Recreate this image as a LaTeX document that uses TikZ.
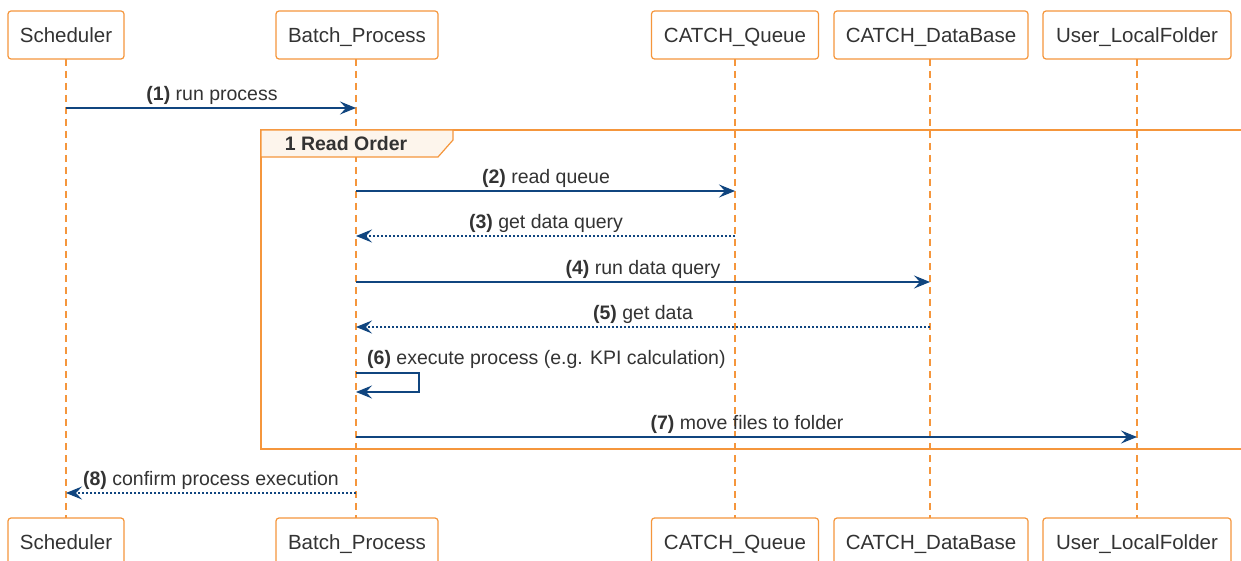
\documentclass[tikz,border=0pt]{standalone}
\usepackage{fontspec}
\setmainfont{Liberation Sans}
\usetikzlibrary{arrows.meta}
\definecolor{orng}{HTML}{F5963C}
\definecolor{navy}{HTML}{10457F}
\definecolor{txt}{HTML}{333333}
\definecolor{tabfill}{HTML}{FDF5EC}
\begin{document}
\begin{tikzpicture}[x=1pt,y=-1pt,
  part/.style={draw=orng,line width=1.2pt,rounded corners=3pt,fill=white,minimum height=48pt,inner sep=0pt,text=txt,font=\fontsize{20.5}{22}\selectfont},
  life/.style={draw=orng,line width=1.2pt,dash pattern=on 7pt off 5pt},
  msg/.style={draw=navy,line width=1.2pt,-{Stealth[length=16pt,width=13pt,inset=6pt]}},
  ret/.style={msg,dash pattern=on 2pt off 2pt},
  lbl/.style={text=txt,font=\fontsize{19.5}{21}\selectfont,inner sep=0pt,anchor=base}]
\clip (0,0) rectangle (1241,561);
\fill[white] (0,0) rectangle (1241,561);
% lifelines coordinates
\foreach \n/\x in {s/66,b/356,q/735,d/930,u/1137}{
  \coordinate (\n top) at (\x,59);
  \coordinate (\n bot) at (\x,518);
}
\foreach \n in {s,b,q,d,u}{\draw[life] (\n top) -- (\n bot);}
% frame
\draw[orng,line width=1.2pt] (261,130) rectangle (1260,449);
\draw[orng,line width=1.2pt,fill=tabfill] (261,130) -- (453,130) -- (453,140) -- (438,157) -- (261,157) -- cycle;
\node[lbl,font=\fontsize{19.5}{21}\selectfont\bfseries] (frm) at (346,151) {1 Read Order};
% participants top
\node[part,minimum width=116pt] (S1) at (66,35) {};
\node[part,minimum width=162pt] (B1) at (357,35) {};
\node[part,minimum width=167pt] (Q1) at (735,35) {};
\node[part,minimum width=194pt] (D1) at (931,35) {};
\node[part,minimum width=188pt] (U1) at (1137,35) {};
% participants bottom
\node[part,minimum width=116pt] (S2) at (66,542) {};
\node[part,minimum width=162pt] (B2) at (357,542) {};
\node[part,minimum width=167pt] (Q2) at (735,542) {};
\node[part,minimum width=194pt] (D2) at (931,542) {};
\node[part,minimum width=188pt] (U2) at (1137,542) {};
\foreach \n/\t in {S/Scheduler,B/Batch\_Process,Q/CATCH\_Queue,D/CATCH\_DataBase,U/User\_LocalFolder}{
  \node[lbl,font=\fontsize{20.5}{22}\selectfont] at ([yshift=-7.5pt]\n1.center) {\t};
  \node[lbl,font=\fontsize{20.5}{22}\selectfont] at ([yshift=-7.5pt]\n2.center) {\t};
}
% message points
\coordinate (s1) at (66,108);  \coordinate (b1) at (356,108);
\coordinate (b2) at (356,191); \coordinate (q2) at (735,191);
\coordinate (q3) at (735,236); \coordinate (b3) at (356,236);
\coordinate (b4) at (356,282); \coordinate (d4) at (930,282);
\coordinate (d5) at (930,327); \coordinate (b5) at (356,327);
\coordinate (b6a) at (356,373); \coordinate (r6a) at (419,373);
\coordinate (r6b) at (419,392); \coordinate (b6b) at (356,392);
\coordinate (b7) at (356,437); \coordinate (u7) at (1137,437);
\coordinate (b8) at (356,493); \coordinate (s8) at (66,493);
\draw[msg] (s1) -- (b1);
\draw[msg] (b2) -- (q2);
\draw[ret] (q3) -- (b3);
\draw[msg] (b4) -- (d4);
\draw[ret] (d5) -- (b5);
\draw[msg] (b6a) -- (r6a) -- (r6b) -- (b6b);
\draw[msg] (b7) -- (u7);
\draw[ret] (b8) -- (s8);
% labels
\node[lbl] (l1) at (212,101) {\textbf{(1)} run process};
\node[lbl] (l2) at (546,184) {\textbf{(2)} read queue};
\node[lbl] (l3) at (546,229) {\textbf{(3)} get data query};
\node[lbl] (l4) at (643,274) {\textbf{(4)} run data query};
\node[lbl] (l5) at (643,319) {\textbf{(5)} get data};
\node[lbl,anchor=base west] (l6) at (367,364) {\textbf{(6)} execute process (e.g. KPI calculation)};
\node[lbl] (l7) at (747,429) {\textbf{(7)} move files to folder};
\node[lbl] (l8) at (211,485) {\textbf{(8)} confirm process execution};
\end{tikzpicture}
\end{document}
